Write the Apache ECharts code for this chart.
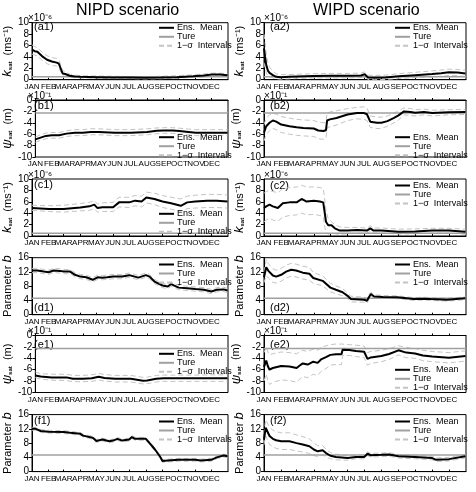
<!DOCTYPE html>
<html>
<head>
<meta charset="utf-8">
<script src="https://cdn.jsdelivr.net/npm/echarts@6/dist/echarts.min.js"></script>
<style>
  html, body { margin: 0; padding: 0; background: #fff; }
  #chart { width: 476px; height: 492px; }
</style>
</head>
<body>
<div id="chart"></div>
<script>
// time axis: day of year where each month starts
const monthNames = ['JAN', 'FEB', 'MAR', 'APR', 'MAY', 'JUN', 'JUL', 'AUG', 'SEP', 'OCT', 'NOV', 'DEC'];
const monthStart = [0, 31, 59, 90, 120, 151, 181, 212, 243, 273, 304, 334];

// true parameter values
const trueKsat = 0.5;   // x1e-6 m/s
const truePsi = -2.3;   // x1e-1 m
const trueB = 4.65;

// (a1) NIPD k_sat
const a1Days = [0, 5, 10, 19, 28, 37, 46, 50, 54, 57, 62, 70, 80, 90, 120, 150, 180, 210, 240, 270, 300, 320, 335, 350, 364];
const a1Mean = [5.3, 5.0, 4.9, 4.1, 3.5, 3.2, 3.0, 2.8, 1.8, 1.1, 1.0, 0.7, 0.55, 0.5, 0.45, 0.4, 0.38, 0.35, 0.38, 0.45, 0.6, 0.75, 0.9, 0.9, 0.8];
const a1Upper = [6.1, 5.8, 5.6, 4.8, 4.2, 3.9, 3.7, 3.5, 2.4, 1.6, 1.4, 1.0, 0.8, 0.7, 0.65, 0.6, 0.55, 0.55, 0.6, 0.7, 0.85, 1.0, 1.15, 1.15, 1.05];
const a1Lower = [4.5, 4.3, 4.2, 3.4, 2.8, 2.5, 2.4, 2.1, 1.3, 0.7, 0.6, 0.4, 0.35, 0.3, 0.25, 0.2, 0.2, 0.15, 0.18, 0.25, 0.4, 0.5, 0.65, 0.65, 0.55];

// (a2) WIPD k_sat
const a2Days = [0, 2, 4, 7, 10, 16, 22, 31, 45, 60, 90, 120, 150, 175, 182, 188, 200, 220, 243, 273, 304, 320, 334, 350, 364];
const a2Mean = [5.5, 4.0, 2.6, 1.6, 1.2, 0.8, 0.5, 0.45, 0.5, 0.55, 0.65, 0.7, 0.7, 0.75, 0.95, 0.4, 0.35, 0.4, 0.6, 0.8, 1.0, 1.15, 1.3, 1.25, 1.1];
const a2Upper = [8.0, 6.5, 4.5, 3.0, 2.2, 1.5, 1.0, 0.9, 0.9, 0.95, 1.05, 1.1, 1.1, 1.15, 1.35, 0.8, 0.75, 0.8, 1.05, 1.3, 1.55, 1.7, 1.85, 1.8, 1.65];
const a2Lower = [3.0, 2.0, 1.2, 0.7, 0.5, 0.3, 0.15, 0.1, 0.15, 0.2, 0.3, 0.3, 0.3, 0.35, 0.55, 0.05, 0.0, 0.05, 0.2, 0.35, 0.5, 0.6, 0.75, 0.7, 0.55];

// (b1) NIPD psi_sat
const b1Days = [0, 10, 20, 31, 45, 59, 75, 90, 105, 120, 151, 181, 212, 230, 243, 260, 273, 290, 304, 334, 364];
const b1Mean = [-6.9, -6.6, -6.3, -6.2, -6.2, -5.9, -5.75, -5.75, -5.6, -5.6, -5.75, -5.75, -5.6, -5.4, -5.35, -5.35, -5.45, -5.6, -5.75, -5.75, -5.75];
const b1Upper = [-6.5, -6.1, -5.8, -5.7, -5.7, -5.4, -5.2, -5.2, -5.05, -5.05, -5.2, -5.2, -5.05, -4.9, -4.85, -4.85, -4.95, -5.1, -5.2, -5.2, -5.2];
const b1Lower = [-7.4, -7.1, -6.8, -6.7, -6.7, -6.4, -6.25, -6.25, -6.1, -6.1, -6.25, -6.25, -6.1, -5.9, -5.85, -5.85, -5.95, -6.1, -6.25, -6.25, -6.25];

// (b2) WIPD psi_sat
const b2Days = [0, 4, 10, 16, 22, 31, 46, 59, 71, 90, 98, 107, 112, 114, 119, 131, 151, 168, 181, 186, 192, 204, 212, 223, 235, 243, 253, 265, 273, 289, 304, 334, 364];
const b2Mean = [-5.75, -4.6, -4.0, -3.6, -3.8, -4.3, -4.6, -4.8, -4.9, -5.0, -5.35, -5.45, -5.3, -3.6, -3.4, -3.15, -2.55, -2.3, -2.3, -2.5, -3.8, -4.0, -4.0, -3.7, -3.15, -2.7, -2.0, -2.1, -2.25, -2.1, -2.3, -2.15, -2.1];
const b2Upper = [-4.3, -3.2, -2.6, -2.3, -2.5, -2.9, -3.2, -3.4, -3.5, -3.6, -3.9, -4.0, -3.9, -2.3, -2.1, -1.9, -1.5, -1.3, -1.2, -1.4, -2.8, -3.0, -3.0, -2.8, -2.3, -1.9, -1.4, -1.5, -1.7, -1.6, -1.8, -1.7, -1.65];
const b2Lower = [-7.2, -6.0, -5.4, -5.0, -5.2, -5.7, -6.0, -6.2, -6.3, -6.4, -6.8, -6.9, -6.7, -4.9, -4.7, -4.4, -3.6, -3.3, -3.4, -3.6, -4.8, -5.0, -5.0, -4.6, -4.0, -3.5, -2.6, -2.7, -2.8, -2.6, -2.8, -2.6, -2.55];

// (c1) NIPD k_sat
const c1Days = [0, 31, 59, 90, 107, 116, 122, 131, 151, 162, 181, 192, 204, 213, 228, 243, 259, 277, 289, 304, 326, 344, 364];
const c1Mean = [4.9, 4.75, 4.75, 5.0, 5.2, 5.5, 4.9, 5.05, 5.05, 5.9, 5.9, 6.2, 6.05, 6.75, 6.5, 6.05, 5.75, 5.3, 5.9, 6.05, 6.2, 6.2, 6.05];
const c1Upper = [5.4, 5.3, 5.4, 5.7, 5.9, 6.2, 5.6, 5.8, 5.9, 6.8, 6.8, 7.1, 7.0, 7.7, 7.5, 7.1, 6.8, 6.5, 7.0, 7.15, 7.3, 7.3, 7.2];
const c1Lower = [4.5, 4.3, 4.2, 4.4, 4.5, 4.8, 4.2, 4.3, 4.3, 5.1, 5.0, 5.3, 5.1, 5.8, 5.5, 5.0, 4.7, 4.3, 4.8, 4.9, 5.0, 5.0, 4.9];

// (c2) WIPD k_sat
const c2Days = [0, 4, 10, 16, 25, 34, 46, 59, 68, 77, 90, 101, 107, 109, 112, 116, 122, 128, 137, 151, 168, 186, 192, 198, 212, 243, 273, 304, 334, 364];
const c2Mean = [4.9, 5.2, 5.5, 5.2, 4.9, 5.75, 5.9, 5.9, 6.5, 6.05, 6.2, 6.05, 5.9, 4.6, 2.5, 1.9, 1.9, 1.35, 0.95, 0.95, 1.05, 0.95, 1.35, 0.95, 0.95, 0.75, 0.8, 0.95, 0.95, 0.75];
const c2Upper = [7.5, 7.8, 8.0, 7.8, 7.6, 8.3, 8.5, 8.6, 8.9, 8.6, 8.6, 8.5, 8.3, 7.0, 4.5, 3.0, 2.5, 2.0, 1.6, 1.5, 1.5, 1.4, 1.8, 1.4, 1.4, 1.2, 1.25, 1.35, 1.35, 1.2];
const c2Lower = [2.5, 2.8, 3.1, 2.8, 2.6, 3.3, 3.6, 3.7, 4.0, 3.7, 3.8, 3.6, 3.4, 2.0, 0.6, 0.3, 0.5, 0.4, 0.3, 0.4, 0.5, 0.5, 0.8, 0.5, 0.5, 0.35, 0.4, 0.5, 0.5, 0.3];

// (d1) NIPD b
const d1Days = [0, 10, 22, 31, 40, 52, 59, 71, 80, 90, 101, 113, 122, 131, 140, 143, 151, 168, 181, 198, 212, 219, 228, 243, 253, 259, 273, 289, 304, 320, 334, 344, 357, 364];
const d1Mean = [12.4, 12.4, 12.1, 11.9, 12.4, 12.3, 12.1, 12.1, 11.2, 10.7, 10.5, 9.8, 10.5, 10.4, 10.5, 11.0, 10.7, 10.7, 11.1, 10.4, 11.1, 10.7, 9.3, 8.2, 7.9, 8.6, 7.6, 7.4, 7.2, 7.0, 6.5, 7.0, 7.1, 6.8];
const d1Upper = [13.0, 13.0, 12.7, 12.5, 13.0, 12.9, 12.7, 12.7, 11.8, 11.3, 11.1, 10.4, 11.1, 11.0, 11.1, 11.6, 11.3, 11.3, 11.7, 11.0, 11.7, 11.3, 9.9, 8.8, 8.5, 9.2, 8.2, 8.0, 7.8, 7.6, 7.1, 7.6, 7.7, 7.4];
const d1Lower = [11.8, 11.8, 11.5, 11.3, 11.8, 11.7, 11.5, 11.5, 10.6, 10.1, 9.9, 9.2, 9.9, 9.8, 9.9, 10.4, 10.1, 10.1, 10.5, 9.8, 10.5, 10.1, 8.7, 7.6, 7.3, 8.0, 7.0, 6.8, 6.6, 6.4, 5.9, 6.4, 6.5, 6.2];

// (d2) WIPD b
const d2Days = [0, 4, 8, 16, 22, 31, 40, 49, 58, 70, 82, 89, 106, 120, 130, 142, 151, 157, 181, 186, 193, 199, 215, 241, 270, 287, 301, 331, 347, 364];
const d2Mean = [10.5, 13.3, 12.3, 11.0, 10.7, 11.2, 12.1, 12.6, 12.4, 11.8, 11.5, 10.3, 9.5, 7.6, 7.0, 6.3, 5.3, 4.4, 4.2, 3.9, 5.8, 5.1, 5.0, 4.9, 4.4, 4.5, 4.4, 4.2, 4.4, 4.6];
const d2Upper = [12.0, 15.5, 14.3, 12.9, 12.5, 13.0, 13.9, 14.4, 14.2, 13.6, 13.3, 11.8, 10.9, 8.8, 8.1, 7.3, 6.1, 5.2, 4.9, 4.6, 6.3, 5.6, 5.4, 5.3, 4.8, 4.9, 4.8, 4.6, 4.8, 5.0];
const d2Lower = [9.0, 11.0, 10.3, 9.1, 8.9, 9.4, 10.3, 10.8, 10.6, 10.0, 9.7, 8.8, 8.1, 6.4, 5.9, 5.3, 4.5, 3.6, 3.5, 3.2, 5.3, 4.6, 4.6, 4.5, 4.0, 4.1, 4.0, 3.8, 4.0, 4.2];

// (e1) NIPD psi_sat
const e1Days = [0, 10, 31, 59, 71, 90, 107, 120, 131, 151, 181, 204, 212, 229, 243, 273, 304, 334, 364];
const e1Mean = [-7.0, -7.2, -7.35, -7.35, -7.6, -7.6, -7.5, -7.25, -7.45, -7.6, -7.6, -7.95, -7.9, -7.6, -7.5, -7.5, -7.5, -7.5, -7.5];
const e1Upper = [-6.4, -6.7, -6.8, -6.8, -7.0, -7.0, -6.9, -6.65, -6.85, -7.0, -7.0, -7.35, -7.3, -7.0, -6.95, -6.95, -6.95, -6.9, -6.9];
const e1Lower = [-7.4, -7.65, -7.85, -7.9, -8.1, -8.1, -8.05, -7.8, -8.0, -8.15, -8.15, -8.5, -8.45, -8.15, -8.05, -8.05, -8.05, -8.05, -8.05];

// (e2) WIPD psi_sat
const e2Days = [0, 4, 7, 10, 16, 31, 46, 59, 64, 70, 79, 89, 97, 103, 112, 120, 130, 140, 142, 154, 166, 181, 187, 193, 212, 226, 243, 257, 273, 287, 304, 334, 364];
const e2Mean = [-5.5, -4.4, -5.4, -6.0, -5.7, -5.35, -5.45, -5.7, -5.3, -4.9, -5.1, -4.6, -4.8, -4.2, -3.8, -3.4, -3.3, -3.3, -2.5, -2.55, -2.7, -2.85, -4.1, -3.85, -3.6, -3.25, -2.6, -3.0, -3.15, -3.5, -3.7, -3.9, -3.6];
const e2Upper = [-3.0, -2.0, -2.9, -3.4, -3.2, -2.9, -3.0, -3.2, -2.9, -2.6, -2.8, -2.4, -2.6, -2.1, -1.8, -1.6, -1.5, -1.5, -1.5, -1.6, -1.7, -1.85, -3.0, -2.8, -2.6, -2.3, -1.8, -2.1, -2.3, -2.6, -2.8, -3.0, -2.7];
const e2Lower = [-8.0, -6.8, -7.9, -8.6, -8.2, -7.8, -7.9, -8.2, -7.7, -7.2, -7.4, -6.8, -7.0, -6.3, -5.8, -5.2, -5.1, -5.1, -3.5, -3.5, -3.7, -3.85, -5.2, -4.9, -4.6, -4.2, -3.4, -3.9, -4.0, -4.4, -4.6, -4.8, -4.5];

// (f1) NIPD b
const f1Days = [0, 7, 16, 31, 59, 71, 90, 95, 113, 120, 131, 144, 151, 159, 168, 181, 186, 192, 212, 219, 229, 238, 243, 253, 273, 304, 314, 334, 344, 357, 364];
const f1Mean = [12.0, 12.0, 11.4, 11.2, 11.1, 10.9, 10.6, 10.1, 9.5, 8.6, 9.0, 8.5, 8.7, 9.2, 8.7, 9.0, 9.7, 9.2, 9.2, 8.0, 6.2, 4.3, 3.0, 3.1, 3.3, 3.3, 3.1, 3.3, 4.0, 4.5, 4.3];
const f1Upper = [12.4, 12.4, 11.8, 11.6, 11.5, 11.3, 11.0, 10.5, 9.9, 9.0, 9.4, 8.9, 9.1, 9.6, 9.1, 9.4, 10.1, 9.6, 9.6, 8.4, 6.6, 4.7, 3.4, 3.5, 3.7, 3.7, 3.5, 3.7, 4.4, 4.9, 4.7];
const f1Lower = [11.6, 11.6, 11.0, 10.8, 10.7, 10.5, 10.2, 9.7, 9.1, 8.2, 8.6, 8.1, 8.3, 8.8, 8.3, 8.6, 9.3, 8.8, 8.8, 7.6, 5.8, 3.9, 2.6, 2.7, 2.9, 2.9, 2.7, 2.9, 3.6, 4.1, 3.9];

// (f2) WIPD b
const f2Days = [0, 3, 6, 10, 16, 22, 31, 46, 59, 70, 82, 90, 97, 106, 112, 120, 130, 151, 166, 181, 187, 193, 212, 226, 243, 273, 304, 311, 334, 364];
const f2Mean = [9.0, 12.3, 12.8, 10.0, 9.2, 8.8, 8.5, 8.5, 8.0, 7.6, 7.1, 6.2, 5.7, 6.0, 5.2, 4.45, 4.1, 3.8, 4.1, 4.1, 5.0, 4.6, 4.7, 4.8, 4.3, 4.1, 3.8, 3.3, 3.5, 4.3];
const f2Upper = [10.5, 14.5, 15.0, 12.5, 11.6, 11.2, 10.9, 10.9, 10.3, 9.8, 9.2, 8.0, 7.3, 7.3, 6.3, 5.3, 4.9, 4.4, 4.6, 4.6, 5.5, 5.1, 5.2, 5.3, 4.8, 4.6, 4.3, 3.8, 4.0, 4.8];
const f2Lower = [7.5, 10.0, 10.5, 7.6, 7.0, 6.5, 6.2, 6.2, 5.8, 5.5, 5.1, 4.5, 4.2, 4.7, 4.1, 3.6, 3.3, 3.2, 3.6, 3.6, 4.5, 4.1, 4.2, 4.3, 3.8, 3.6, 3.3, 2.8, 3.0, 3.8];

const legendNames = ['Ens.  Mean', 'Ture', '1\u2212\u03c3  Intervals'];

// layout
const FONT = 'Liberation Sans';
const colLeft = [28, 264];
const colWidth = [200, 202];
const rowTop = [22.7, 100, 179, 257.7, 335.5, 414.6];
const rowHeight = 57;

// an empty label at the axis end keeps DEC from being dropped by min/max overlap handling
const labelDays = monthStart.concat([365]);

const kinds = {
    k: { min: 0, max: 10, interval: 2, truth: trueKsat, exp: '\u00d710\u207b\u2076',
         name: '{k|k}{s|sat}  (ms\u207b\u00b9)' },
    psi: { min: -10, max: 0, interval: 2, truth: truePsi, exp: '\u00d710\u207b\u00b9',
         name: '{k|\u03c8}{s|sat}  (m)' },
    b: { min: 0, max: 16, interval: 4, truth: trueB, exp: '',
         name: 'Parameter {k|b}' }
};

// legendY / labelY: centre y of first legend row / panel label
const panels = [
    {tag: '(a1)', col: 0, row: 0, kind: 'k',   days: a1Days, mean: a1Mean, upper: a1Upper, lower: a1Lower, legendY: 27.3, labelY: 27},
    {tag: '(a2)', col: 1, row: 0, kind: 'k',   days: a2Days, mean: a2Mean, upper: a2Upper, lower: a2Lower, legendY: 27.3, labelY: 27},
    {tag: '(b1)', col: 0, row: 1, kind: 'psi', days: b1Days, mean: b1Mean, upper: b1Upper, lower: b1Lower, legendY: 136.7, labelY: 106.7},
    {tag: '(b2)', col: 1, row: 1, kind: 'psi', days: b2Days, mean: b2Mean, upper: b2Upper, lower: b2Lower, legendY: 136.7, labelY: 106.7},
    {tag: '(c1)', col: 0, row: 2, kind: 'k',   days: c1Days, mean: c1Mean, upper: c1Upper, lower: c1Lower, legendY: 213.3, labelY: 185},
    {tag: '(c2)', col: 1, row: 2, kind: 'k',   days: c2Days, mean: c2Mean, upper: c2Upper, lower: c2Lower, legendY: 185, labelY: 186},
    {tag: '(d1)', col: 0, row: 3, kind: 'b',   days: d1Days, mean: d1Mean, upper: d1Upper, lower: d1Lower, legendY: 264, labelY: 308},
    {tag: '(d2)', col: 1, row: 3, kind: 'b',   days: d2Days, mean: d2Mean, upper: d2Upper, lower: d2Lower, legendY: 264, labelY: 308},
    {tag: '(e1)', col: 0, row: 4, kind: 'psi', days: e1Days, mean: e1Mean, upper: e1Upper, lower: e1Lower, legendY: 353.3, labelY: 345},
    {tag: '(e2)', col: 1, row: 4, kind: 'psi', days: e2Days, mean: e2Mean, upper: e2Upper, lower: e2Lower, legendY: 369.3, labelY: 345},
    {tag: '(f1)', col: 0, row: 5, kind: 'b',   days: f1Days, mean: f1Mean, upper: f1Upper, lower: f1Lower, legendY: 421, labelY: 421},
    {tag: '(f2)', col: 1, row: 5, kind: 'b',   days: f2Days, mean: f2Mean, upper: f2Upper, lower: f2Lower, legendY: 421, labelY: 421}
];

function zip(xs, ys) {
    return xs.map((x, i) => [x, ys[i]]);
}

let grids = [], xAxes = [], yAxes = [], series = [], legends = [], graphics = [];

graphics.push({type: 'text', left: 76, top: 3, style: {text: 'NIPD scenario', font: '16px ' + FONT, fill: '#000'}});
graphics.push({type: 'text', left: 313, top: 3, style: {text: 'WIPD scenario', font: '16px ' + FONT, fill: '#000'}});

panels.forEach((p, i) => {
    const k = kinds[p.kind];
    const left = colLeft[p.col], top = rowTop[p.row];
    grids.push({left: left, top: top, width: colWidth[p.col], height: rowHeight,
        show: true, borderColor: '#000', borderWidth: 1, backgroundColor: 'transparent'});

    xAxes.push({
        type: 'value', gridIndex: i, min: 0, max: 365,
        axisLine: {show: true, lineStyle: {color: '#000', width: 1}},
        axisTick: {show: true, inside: true, length: 2, customValues: monthStart, lineStyle: {color: '#000'}},
        axisLabel: {show: true, customValues: labelDays, margin: 3, fontSize: 8, fontFamily: FONT, color: '#000',
            hideOverlap: false, showMinLabel: true, showMaxLabel: true,
            formatter: v => (v < 365 ? monthNames[monthStart.indexOf(v)] : '')},
        splitLine: {show: false}
    });

    yAxes.push({
        type: 'value', gridIndex: i, min: k.min, max: k.max, interval: k.interval,
        axisLine: {show: true, lineStyle: {color: '#000', width: 1}},
        axisTick: {show: true, length: 3, lineStyle: {color: '#000'}},
        axisLabel: {margin: 3, fontSize: 10, fontFamily: FONT, color: '#000'},
        splitLine: {show: false},
        name: k.name, nameLocation: 'middle', nameGap: 14,
        nameTextStyle: {fontSize: 11, fontFamily: FONT, color: '#000',
            rich: {
                k: {fontSize: 13, fontStyle: 'italic', fontFamily: FONT, color: '#000'},
                s: {fontSize: 6, fontWeight: 'bold', fontFamily: FONT, color: '#000', padding: [6, 0, 0, 0]}
            }}
    });

    series.push({type: 'line', name: legendNames[2], xAxisIndex: i, yAxisIndex: i, data: zip(p.days, p.upper),
        symbol: 'none', itemStyle: {color: '#c4c4c4'}, lineStyle: {color: '#c4c4c4', width: 1, type: [5, 3]}, z: 1, silent: true});
    series.push({type: 'line', name: legendNames[2], xAxisIndex: i, yAxisIndex: i, data: zip(p.days, p.lower),
        symbol: 'none', itemStyle: {color: '#c4c4c4'}, lineStyle: {color: '#c4c4c4', width: 1, type: [5, 3]}, z: 1, silent: true});
    series.push({type: 'line', name: legendNames[1], xAxisIndex: i, yAxisIndex: i, data: [[0, k.truth], [365, k.truth]],
        symbol: 'none', itemStyle: {color: '#a0a0a0'}, lineStyle: {color: '#a0a0a0', width: 1.5}, z: 2, silent: true});
    series.push({type: 'line', name: legendNames[0], xAxisIndex: i, yAxisIndex: i, data: zip(p.days, p.mean),
        symbol: 'none', itemStyle: {color: '#000'}, lineStyle: {color: '#000', width: 2}, z: 3, silent: true});

    legends.push({
        left: left + 130, top: p.legendY - 4, orient: 'vertical', padding: 0, itemGap: 0,
        itemWidth: 15, itemHeight: 7, selectedMode: false, data: legendNames,
        itemStyle: {opacity: 0},
        textStyle: {fontSize: 9, lineHeight: 8, fontFamily: FONT, color: '#000', padding: [0, 0, 0, -2]}
    });

    graphics.push({type: 'text', left: left + 6, top: p.labelY - 6,
        style: {text: p.tag, font: '11px ' + FONT, fill: '#000'}});
    if (k.exp) {
        graphics.push({type: 'text', left: left, top: top - 9,
            style: {text: k.exp, font: '10px ' + FONT, fill: '#000'}});
    }
});

const chart = echarts.init(document.getElementById('chart'));
chart.setOption({
    animation: false,
    backgroundColor: '#fff',
    grid: grids,
    xAxis: xAxes,
    yAxis: yAxes,
    legend: legends,
    series: series,
    graphic: graphics
});
</script>
</body>
</html>
